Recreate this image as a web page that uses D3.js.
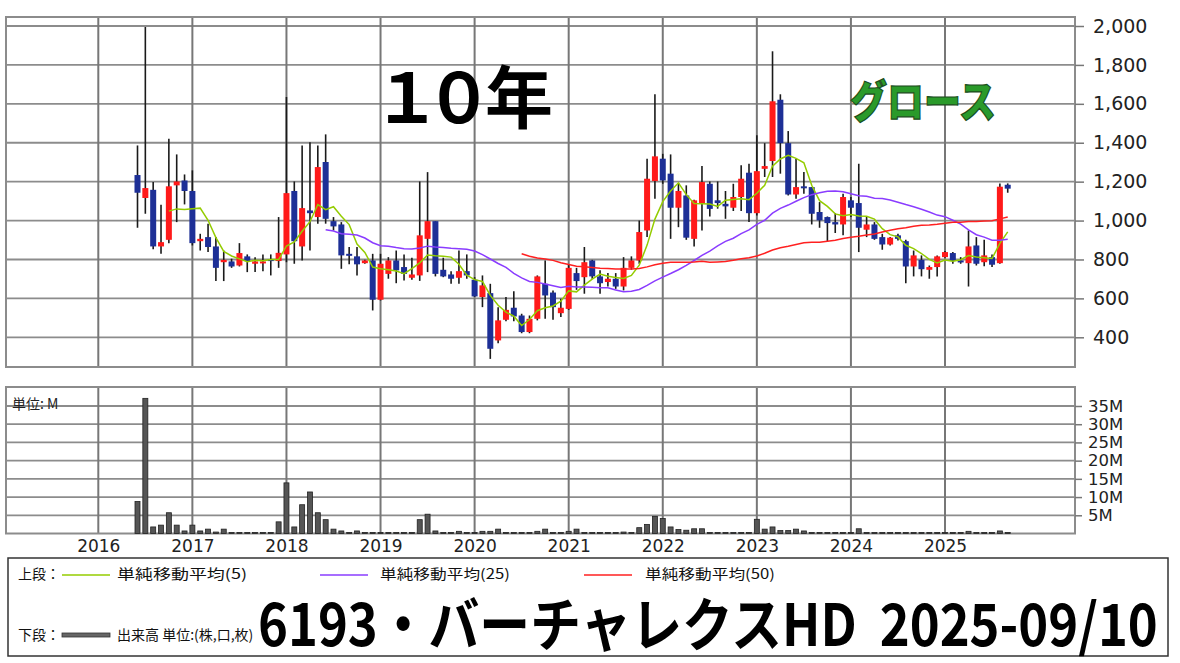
<!DOCTYPE html>
<html><head><meta charset="utf-8">
<script src="https://cdn.jsdelivr.net/npm/d3@7/dist/d3.min.js"></script>
<style>
html,body{margin:0;padding:0;background:#fff;}
svg{display:block;}
</style></head>
<body>
<svg id="chart" width="1180" height="663"></svg>
<script>
// ---- DATA (monthly candles, Jun 2016 .. Sep 2025) ----
const firstMonthIndex = 5; // months since Jan 2016 (Jun 2016)
const opens  = [1234,1116,1158,867,901,1181,1206,1152,894,915,867,786,790,769,816,778,781,802,792,826,1152,867,1052,1018,1301,997,980,829,816,781,795,593,726,795,761,706,718,906,997,747,723,706,740,696,607,627,384,490,552,512,427,495,675,630,524,546,730,709,795,713,684,701,661,757,795,949,1203,1318,1241,1066,1129,906,1086,1189,1104,1086,1066,1121,1246,1038,1266,1306,1621,1398,1134,1176,1172,1044,1018,992,980,1104,1090,953,980,915,877,924,894,764,798,747,761,812,833,795,781,872,786,812,781,1184];
const highs  = [1386,1995,1198,1081,1421,1340,1237,1258,932,984,915,846,804,884,826,812,826,826,1018,1635,1201,1386,1403,1386,1443,1018,992,864,864,798,829,829,812,846,826,809,1201,1249,997,809,740,846,826,709,718,675,555,607,637,521,512,718,795,641,598,774,757,864,798,744,730,730,812,816,1000,1318,1649,1343,1340,1193,1181,1107,1280,1201,1201,1152,1189,1284,1292,1438,1398,1870,1649,1460,1318,1249,1172,1095,1021,1038,1138,1121,1292,1021,992,932,915,932,901,846,821,769,821,843,838,812,949,915,901,826,1191,1191];
const lows   = [963,1035,852,829,884,992,1083,872,846,838,689,689,757,764,735,735,740,718,757,786,778,795,846,984,984,949,752,775,718,778,538,589,701,678,692,696,690,735,713,709,675,675,701,607,555,289,370,483,483,421,421,487,495,490,504,541,644,624,701,624,661,649,641,747,778,915,1112,1189,906,966,901,867,949,1021,1061,1009,1049,1049,992,1026,1224,1224,1241,1129,1112,1138,980,963,894,936,924,1018,838,915,901,850,872,898,678,713,713,701,713,809,778,778,661,769,765,761,778,1143];
const closes = [1143,1167,867,889,1176,1201,1152,884,906,864,757,798,764,833,792,790,790,792,834,1141,894,1064,1038,1275,1009,970,821,821,775,795,593,778,795,744,726,723,924,997,726,713,701,740,718,610,667,341,487,541,507,427,495,713,615,555,552,757,689,786,713,678,701,661,757,795,941,1215,1330,1206,1066,1152,912,1104,1198,1060,1090,1073,1121,1215,1038,1254,1280,1613,1398,1134,1172,1169,1035,1001,987,980,1121,1066,963,980,906,877,912,906,764,821,750,761,816,838,792,786,867,778,821,773,1174,1164];
// volume in millions of shares
const volumes = [8.8,37.1,1.8,2.3,5.7,2.3,0.7,2.3,0.7,1.2,0.4,1.2,0.3,0.3,0.3,0.3,0.3,0.3,3.2,13.9,1.8,7.9,11.4,5.7,3.8,1.2,0.7,0.3,0.7,0.3,0.3,0.3,0.3,0.3,0.3,0.3,3.8,5.3,0.7,0.3,0.3,0.6,0.3,0.3,0.6,0.6,1.2,0.3,0.3,0.3,0.3,0.6,1.2,0.3,0.3,0.6,1.2,0.3,0.3,0.3,0.3,0.3,0.4,0.3,1.6,2.5,4.7,4.1,1.8,1.1,0.9,1.3,1.3,0.3,0.3,0.3,0.3,0.3,0.3,3.9,1.2,1.8,0.8,0.8,1.2,0.7,0.3,0.3,0.3,0.3,0.3,0.3,1.3,0.3,0.3,0.3,0.3,0.3,0.3,0.3,0.3,0.3,0.3,0.3,0.3,0.3,0.6,0.3,0.3,0.3,0.7,0.3];
const yearLabels = ["2016","2017","2018","2019","2020","2021","2022","2023","2024","2025"];
const priceTicks = [400,600,800,1000,1200,1400,1600,1800,2000];
const volumeTicks = [5,10,15,20,25,30,35];
const maPeriods = [5,25,50];
const maColors = ["#94cc00","#8a3cff","#ff2020"];
const legendUpper = ["単純移動平均(5)","単純移動平均(25)","単純移動平均(50)"];
const titleText = "6193・バーチャレクスHD\u00A0\u00A02025-09/10";

// ---- build records ----
const candles = opens.map((o,i)=>({m:firstMonthIndex+i,o:o,h:highs[i],l:lows[i],c:closes[i],v:volumes[i]}));
function sma(n){
  const out=[];
  for(let i=n-1;i<closes.length;i++){
    out.push({m:firstMonthIndex+i, v:d3.mean(closes.slice(i-n+1,i+1))});
  }
  return out;
}
// draw text then squeeze horizontally to a target width with a transform
function fitText(sel, x0, y0, width){
  const w = sel.node().getComputedTextLength();
  sel.attr("x",0).attr("y",0).attr("transform",`translate(${x0},${y0}) scale(${width/w},1)`);
  return sel;
}

// ---- layout ----
const svg = d3.select("#chart");
const L=6, R=1075;
const pTop=17, pBot=367;
const vTop=387, vBot=533.5;
const x = d3.scaleLinear().domain([0,108]).range([98.3,945]);
const yP = d3.scaleLinear().domain([400,2000]).range([337.3,26]);
const yV = d3.scaleLinear().domain([0,35]).range([vBot,406]);
const gridColor="#8c8c8c";
const yearMonths = yearLabels.map((d,i)=>i*12);

svg.append("rect").attr("width",1180).attr("height",663).attr("fill","#fff");

// price panel grid
const gp = svg.append("g");
gp.selectAll("line.h").data(priceTicks).join("line")
  .attr("x1",L).attr("x2",R).attr("y1",d=>yP(d)).attr("y2",d=>yP(d))
  .attr("stroke",gridColor).attr("stroke-width",1.8);
gp.selectAll("line.v").data(yearMonths).join("line")
  .attr("x1",d=>x(d)).attr("x2",d=>x(d)).attr("y1",pTop).attr("y2",pBot)
  .attr("stroke","#777").attr("stroke-width",2);
gp.append("rect").attr("x",L).attr("y",pTop).attr("width",R-L).attr("height",pBot-pTop)
  .attr("fill","none").attr("stroke",gridColor).attr("stroke-width",2);

// volume panel grid
const gv = svg.append("g");
gv.selectAll("line.h").data(volumeTicks).join("line")
  .attr("x1",L).attr("x2",R).attr("y1",d=>yV(d)).attr("y2",d=>yV(d))
  .attr("stroke",gridColor).attr("stroke-width",1.8);
gv.selectAll("line.v").data(yearMonths).join("line")
  .attr("x1",d=>x(d)).attr("x2",d=>x(d)).attr("y1",vTop).attr("y2",vBot)
  .attr("stroke","#777").attr("stroke-width",2);
gv.append("rect").attr("x",L).attr("y",vTop).attr("width",R-L).attr("height",vBot-vTop)
  .attr("fill","none").attr("stroke",gridColor).attr("stroke-width",2);

// big overlay texts in price panel
svg.append("text").attr("x","373 425 485").attr("y",123)
  .attr("font-family","'Noto Sans CJK JP'").attr("font-weight",700).attr("font-size",68)
  .attr("fill","#000").text("１０年");
fitText(svg.append("text")
  .attr("font-family","'Noto Sans CJK JP'").attr("font-weight",900).attr("font-size",44)
  .attr("fill","#2a9a2a").attr("stroke","#1b4d1b").attr("stroke-width",1.2).text("グロース"),
  850, 118, 146);

// candles
const gc = svg.append("g");
gc.selectAll("line.w").data(candles).join("line")
  .attr("x1",d=>x(d.m)).attr("x2",d=>x(d.m))
  .attr("y1",d=>yP(d.h)).attr("y2",d=>yP(d.l))
  .attr("stroke","#1a1a1a").attr("stroke-width",1.6);
gc.selectAll("rect.b").data(candles).join("rect")
  .attr("x",d=>x(d.m)-3).attr("width",6)
  .attr("y",d=>yP(Math.max(d.o,d.c)))
  .attr("height",d=>Math.max(2,Math.abs(yP(d.o)-yP(d.c))))
  .attr("fill",d=>d.c>=d.o?"#ff1a1a":"#1d2f96");

// moving averages
const line = d3.line().x(d=>x(d.m)).y(d=>yP(d.v));
maPeriods.forEach((n,i)=>{
  svg.append("path").datum(sma(n)).attr("d",line)
    .attr("fill","none").attr("stroke",maColors[i]).attr("stroke-width",1.5);
});

// volume bars
svg.append("g").selectAll("rect").data(candles).join("rect")
  .attr("x",d=>x(d.m)-2.5).attr("width",5)
  .attr("y",d=>yV(d.v)).attr("height",d=>vBot-yV(d.v))
  .attr("fill","#555").attr("stroke","#222").attr("stroke-width",0.8);

// axes
const ax1 = svg.append("g").attr("transform",`translate(${R},0)`)
  .call(d3.axisRight(yP).tickValues(priceTicks).tickFormat(d3.format(",")).tickSize(9).tickPadding(9));
ax1.select(".domain").remove();
ax1.selectAll("line").attr("stroke","#777").attr("stroke-width",1.5);
ax1.selectAll("text").attr("font-family","'DejaVu Sans'").attr("font-size",19).attr("fill","#222");

const ax2 = svg.append("g").attr("transform",`translate(${R},0)`)
  .call(d3.axisRight(yV).tickValues(volumeTicks).tickFormat(d=>d+"M").tickSize(7).tickPadding(6));
ax2.select(".domain").remove();
ax2.selectAll("line").attr("stroke","#777").attr("stroke-width",1.5);
ax2.selectAll("text").attr("font-family","'DejaVu Sans'").attr("font-size",16.5).attr("fill","#222");

const ax3 = svg.append("g").attr("transform",`translate(0,${vBot})`)
  .call(d3.axisBottom(x).tickValues(yearMonths).tickFormat((d,i)=>yearLabels[i]).tickSize(0).tickPadding(6));
ax3.select(".domain").remove();
ax3.selectAll("text").attr("font-family","'DejaVu Sans'").attr("font-size",17).attr("fill","#222");

svg.append("text").attr("x",12).attr("y",409).attr("font-family","'Noto Sans CJK JP'")
  .attr("font-size",14).attr("fill","#222").text("単位: M");

// legend box
svg.append("rect").attr("x",8).attr("y",558).attr("width",1160).attr("height",98)
  .attr("fill","#fff").attr("stroke","#333").attr("stroke-width",1.5);
const lg = svg.append("g").attr("font-family","'Noto Sans CJK JP'").attr("font-size",14).attr("fill","#111");
lg.append("text").attr("x",18).attr("y",579).text("上段：");
const legLineX = [62,320,584];
const legTextX = [117,380,645];
legendUpper.forEach((t,i)=>{
  lg.append("line").attr("x1",legLineX[i]).attr("x2",legLineX[i]+48).attr("y1",575).attr("y2",575)
    .attr("stroke",maColors[i]).attr("stroke-width",1.6);
  fitText(lg.append("text").text(t), legTextX[i], 579, 130);
});
lg.append("text").attr("x",18).attr("y",640).text("下段：");
lg.append("rect").attr("x",62).attr("y",633).attr("width",48).attr("height",4)
  .attr("fill","#666").attr("stroke","#333").attr("stroke-width",0.8);
lg.append("text").attr("x",117).attr("y",640).text("出来高 単位:(株,口,枚)");

fitText(svg.append("text")
  .attr("font-family","'Noto Sans CJK JP'").attr("font-weight",700).attr("font-size",58)
  .attr("fill","#000").text(titleText), 258, 646, 900);
</script>
</body></html>
